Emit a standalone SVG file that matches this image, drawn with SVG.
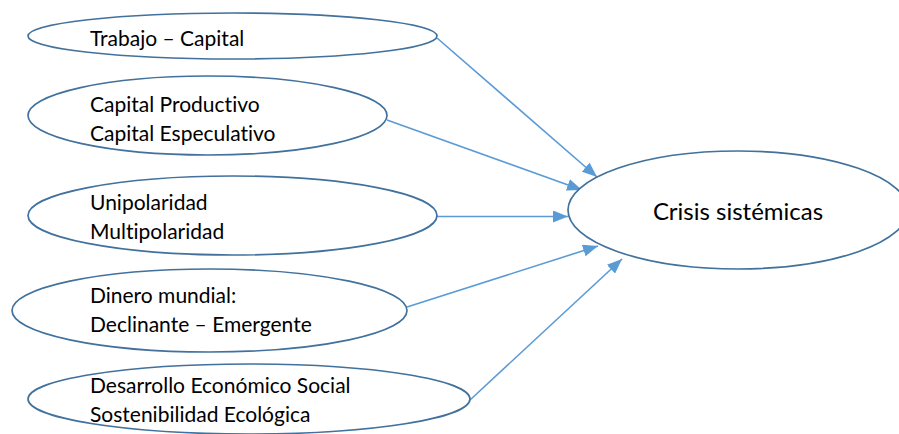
<svg xmlns="http://www.w3.org/2000/svg" width="899" height="434" viewBox="0 0 899 434">
<style>
.node ellipse{fill:#fff;stroke:#41719c;stroke-width:1.7}
.node text{font-family:Lato,"Liberation Sans",sans-serif;font-size:21px;fill:#000;font-variant-ligatures:none;font-feature-settings:"liga" 0,"clig" 0}
#crisis text{font-size:24px}
.conn line{stroke:#5b9bd5;stroke-width:1.6;marker-end:url(#ah)}
</style>
<defs>
<marker id="ah" markerUnits="userSpaceOnUse" markerWidth="16" markerHeight="12" refX="15" refY="6" orient="auto">
<path d="M0,0 L15,6 L0,12 Z" fill="#5b9bd5"/>
</marker>
</defs>
<rect width="899" height="434" fill="#fff"/>
<g class="conn">
<line x1="437" y1="38" x2="597" y2="177"/>
<line x1="387" y1="120" x2="582" y2="190"/>
<line x1="437" y1="216.5" x2="568" y2="216.5"/>
<line x1="407" y1="307" x2="598" y2="246"/>
<line x1="470" y1="400" x2="622" y2="259"/>
</g>
<g id="n1" class="node">
<ellipse cx="232.5" cy="36" rx="204.5" ry="23"/>
<text x="90" y="46">Trabajo – Capital</text>
</g>
<g id="n2" class="node">
<ellipse cx="207.5" cy="115.5" rx="179.5" ry="39.5"/>
<text x="90" y="112">Capital Productivo</text>
<text x="90" y="141">Capital Especulativo</text>
</g>
<g id="n3" class="node">
<ellipse cx="232.5" cy="215.5" rx="204.5" ry="39.5"/>
<text x="90" y="210">Unipolaridad</text>
<text x="90" y="239">Multipolaridad</text>
</g>
<g id="n4" class="node">
<ellipse cx="209.5" cy="310.5" rx="197.5" ry="41.5"/>
<text x="90" y="303">Dinero mundial:</text>
<text x="90" y="332">Declinante – Emergente</text>
</g>
<g id="n5" class="node">
<ellipse cx="249" cy="399" rx="221" ry="35"/>
<text x="90" y="393">Desarrollo Económico Social</text>
<text x="90" y="422">Sostenibilidad Ecológica</text>
</g>
<g id="crisis" class="node">
<ellipse cx="738" cy="210" rx="170" ry="59"/>
<text x="738" y="220" text-anchor="middle">Crisis sistémicas</text>
</g>
</svg>
